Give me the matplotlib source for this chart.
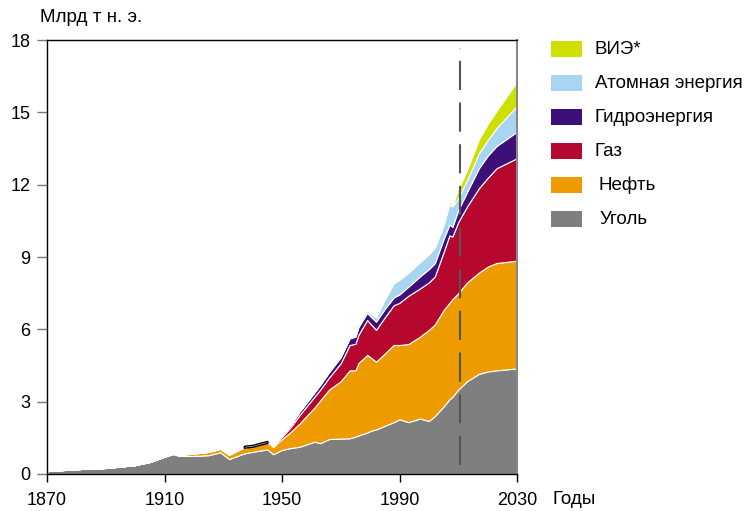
import matplotlib
matplotlib.use("Agg")
import matplotlib.pyplot as plt
from matplotlib.patches import Rectangle

plt.rcParams['font.family'] = ['Liberation Sans', 'DejaVu Sans']

# годы и потребление по источникам, млрд т н. э.
years = [1870, 1880, 1890, 1900, 1905, 1910, 1913, 1915, 1920, 1925, 1929,
         1932, 1937, 1940, 1943, 1945, 1947, 1950, 1953, 1956, 1961,
         1963, 1966, 1970, 1973, 1975, 1976, 1979, 1980, 1982, 1985,
         1988, 1990, 1993, 1997, 2000, 2002, 2005, 2007, 2008, 2010,
         2013, 2017, 2020, 2023, 2030]

coal = [0.12, 0.2, 0.25, 0.37, 0.5, 0.72, 0.82, 0.75, 0.75, 0.78, 0.9,
        0.62, 0.85, 0.92, 0.98, 1.02, 0.82, 1.0, 1.08, 1.13, 1.34,
        1.28, 1.45, 1.47, 1.48, 1.55, 1.6, 1.72, 1.78, 1.85, 2.0,
        2.15, 2.27, 2.15, 2.3, 2.2, 2.4, 2.8, 3.1, 3.2, 3.5,
        3.85, 4.15, 4.25, 4.3, 4.38]

oil = [0, 0, 0, 0, 0, 0, 0.05, 0.05, 0.1, 0.14, 0.15,
       0.18, 0.25, 0.23, 0.27, 0.3, 0.3, 0.45, 0.67, 0.97, 1.41,
       1.77, 2.05, 2.38, 2.82, 2.75, 3.0, 3.22, 3.07, 2.81, 3.0,
       3.2, 3.08, 3.24, 3.4, 3.78, 3.8, 4.0, 4.0, 4.05, 4.0,
       4.1, 4.2, 4.35, 4.45, 4.47]

gas = [0, 0, 0, 0, 0, 0, 0, 0, 0, 0, 0,
       0, 0, 0, 0, 0.03, 0.05, 0.1, 0.2, 0.35, 0.45,
       0.45, 0.5, 0.75, 1.05, 1.1, 1.17, 1.45, 1.4, 1.32, 1.5,
       1.65, 1.75, 2.0, 2.0, 1.97, 1.99, 2.4, 2.8, 2.6, 2.95,
       3.15, 3.5, 3.68, 3.93, 4.25]

hydro = [0, 0, 0, 0, 0, 0, 0, 0, 0, 0, 0,
         0, 0, 0, 0, 0.03, 0.04, 0.07, 0.1, 0.15, 0.18,
         0.2, 0.22, 0.25, 0.27, 0.3, 0.32, 0.3, 0.3, 0.34, 0.35,
         0.32, 0.35, 0.38, 0.5, 0.55, 0.55, 0.55, 0.45, 0.4, 0.5,
         0.6, 0.83, 0.92, 0.92, 1.1]

nuclear = [0, 0, 0, 0, 0, 0, 0, 0, 0, 0, 0,
           0, 0, 0, 0, 0, 0, 0, 0, 0, 0.01,
           0.02, 0.03, 0.05, 0.06, 0.08, 0.09, 0.15, 0.12, 0.18, 0.4,
           0.6, 0.62, 0.58, 0.6, 0.62, 0.65, 0.6, 0.85, 0.85, 0.5,
           0.5, 0.62, 0.65, 0.75, 1.07]

renew = [0, 0, 0, 0, 0, 0, 0, 0, 0, 0, 0,
         0, 0, 0, 0, 0, 0, 0, 0, 0, 0,
         0, 0, 0, 0, 0, 0, 0, 0, 0, 0,
         0, 0, 0, 0, 0, 0, 0, 0.15, 0, 0.35,
         0.4, 0.56, 0.65, 0.7, 1.0]

# узкая полоса с чёрным контуром в 1937-1945 гг.
band_years = [1937, 1940, 1943, 1945]
band_low = [1.09, 1.13, 1.23, 1.29]
band_high = [1.17, 1.21, 1.31, 1.37]

labels = ['Уголь', 'Нефть', 'Газ', 'Гидроэнергия', 'Атомная энергия', 'ВИЭ*']
colors = ['#7f7f7f', '#ee9b00', '#b6082e', '#3c1078', '#a8d6f2', '#cde000']
forecast_year = 2010.5

fig = plt.figure(figsize=(7.44, 5.11), dpi=100)
ax = fig.add_axes([47/744, 1-474/511, 470/744, 434/511])

ax.stackplot(years, coal, oil, gas, hydro, nuclear, renew,
             colors=colors, edgecolor='white', linewidth=0.8)
ax.fill_between(band_years, band_low, band_high, facecolor='white',
                edgecolor='black', linewidth=1)

ax.vlines(forecast_year, 0.37, 17.65, colors='#555555', linewidth=1.5,
          linestyles=(0, (14, 6)))

ax.set_xlim(1870, 2030)
ax.set_ylim(0, 18)
ax.set_xticks([1870, 1910, 1950, 1990, 2030])
ax.set_yticks([0, 3, 6, 9, 12, 15, 18])
ax.tick_params(axis='x', direction='out', length=6, width=1, pad=7,
               labelsize=13, color='black')
ax.tick_params(axis='y', direction='out', length=7, width=1, pad=5,
               labelsize=13, color='#777777')

for s in ['left', 'bottom', 'top']:
    ax.spines[s].set_color('black')
    ax.spines[s].set_linewidth(1)
ax.spines['right'].set_color('#888888')
ax.spines['right'].set_linewidth(1.5)

fig.text(40/744, 1-18/511, 'Млрд т н. э.', fontsize=13.5, va='center', ha='left')
fig.text(553/744, 1-500/511, 'Годы', fontsize=13.5, va='center', ha='left')

# легенда справа
legend_rows = [(5, 595), (4, 595), (3, 595), (2, 595), (1, 599), (0, 599)]
for i, (k, tx) in enumerate(legend_rows):
    yc = 49.5 + i * 34
    fig.patches.append(Rectangle((551/744, 1-(yc+8)/511), 31/744, 16/511,
                                 transform=fig.transFigure, facecolor=colors[k],
                                 edgecolor='none'))
    fig.text(tx/744, 1-yc/511, labels[k], fontsize=13.5, va='center', ha='left')

fig.savefig('out.png', dpi=100)
